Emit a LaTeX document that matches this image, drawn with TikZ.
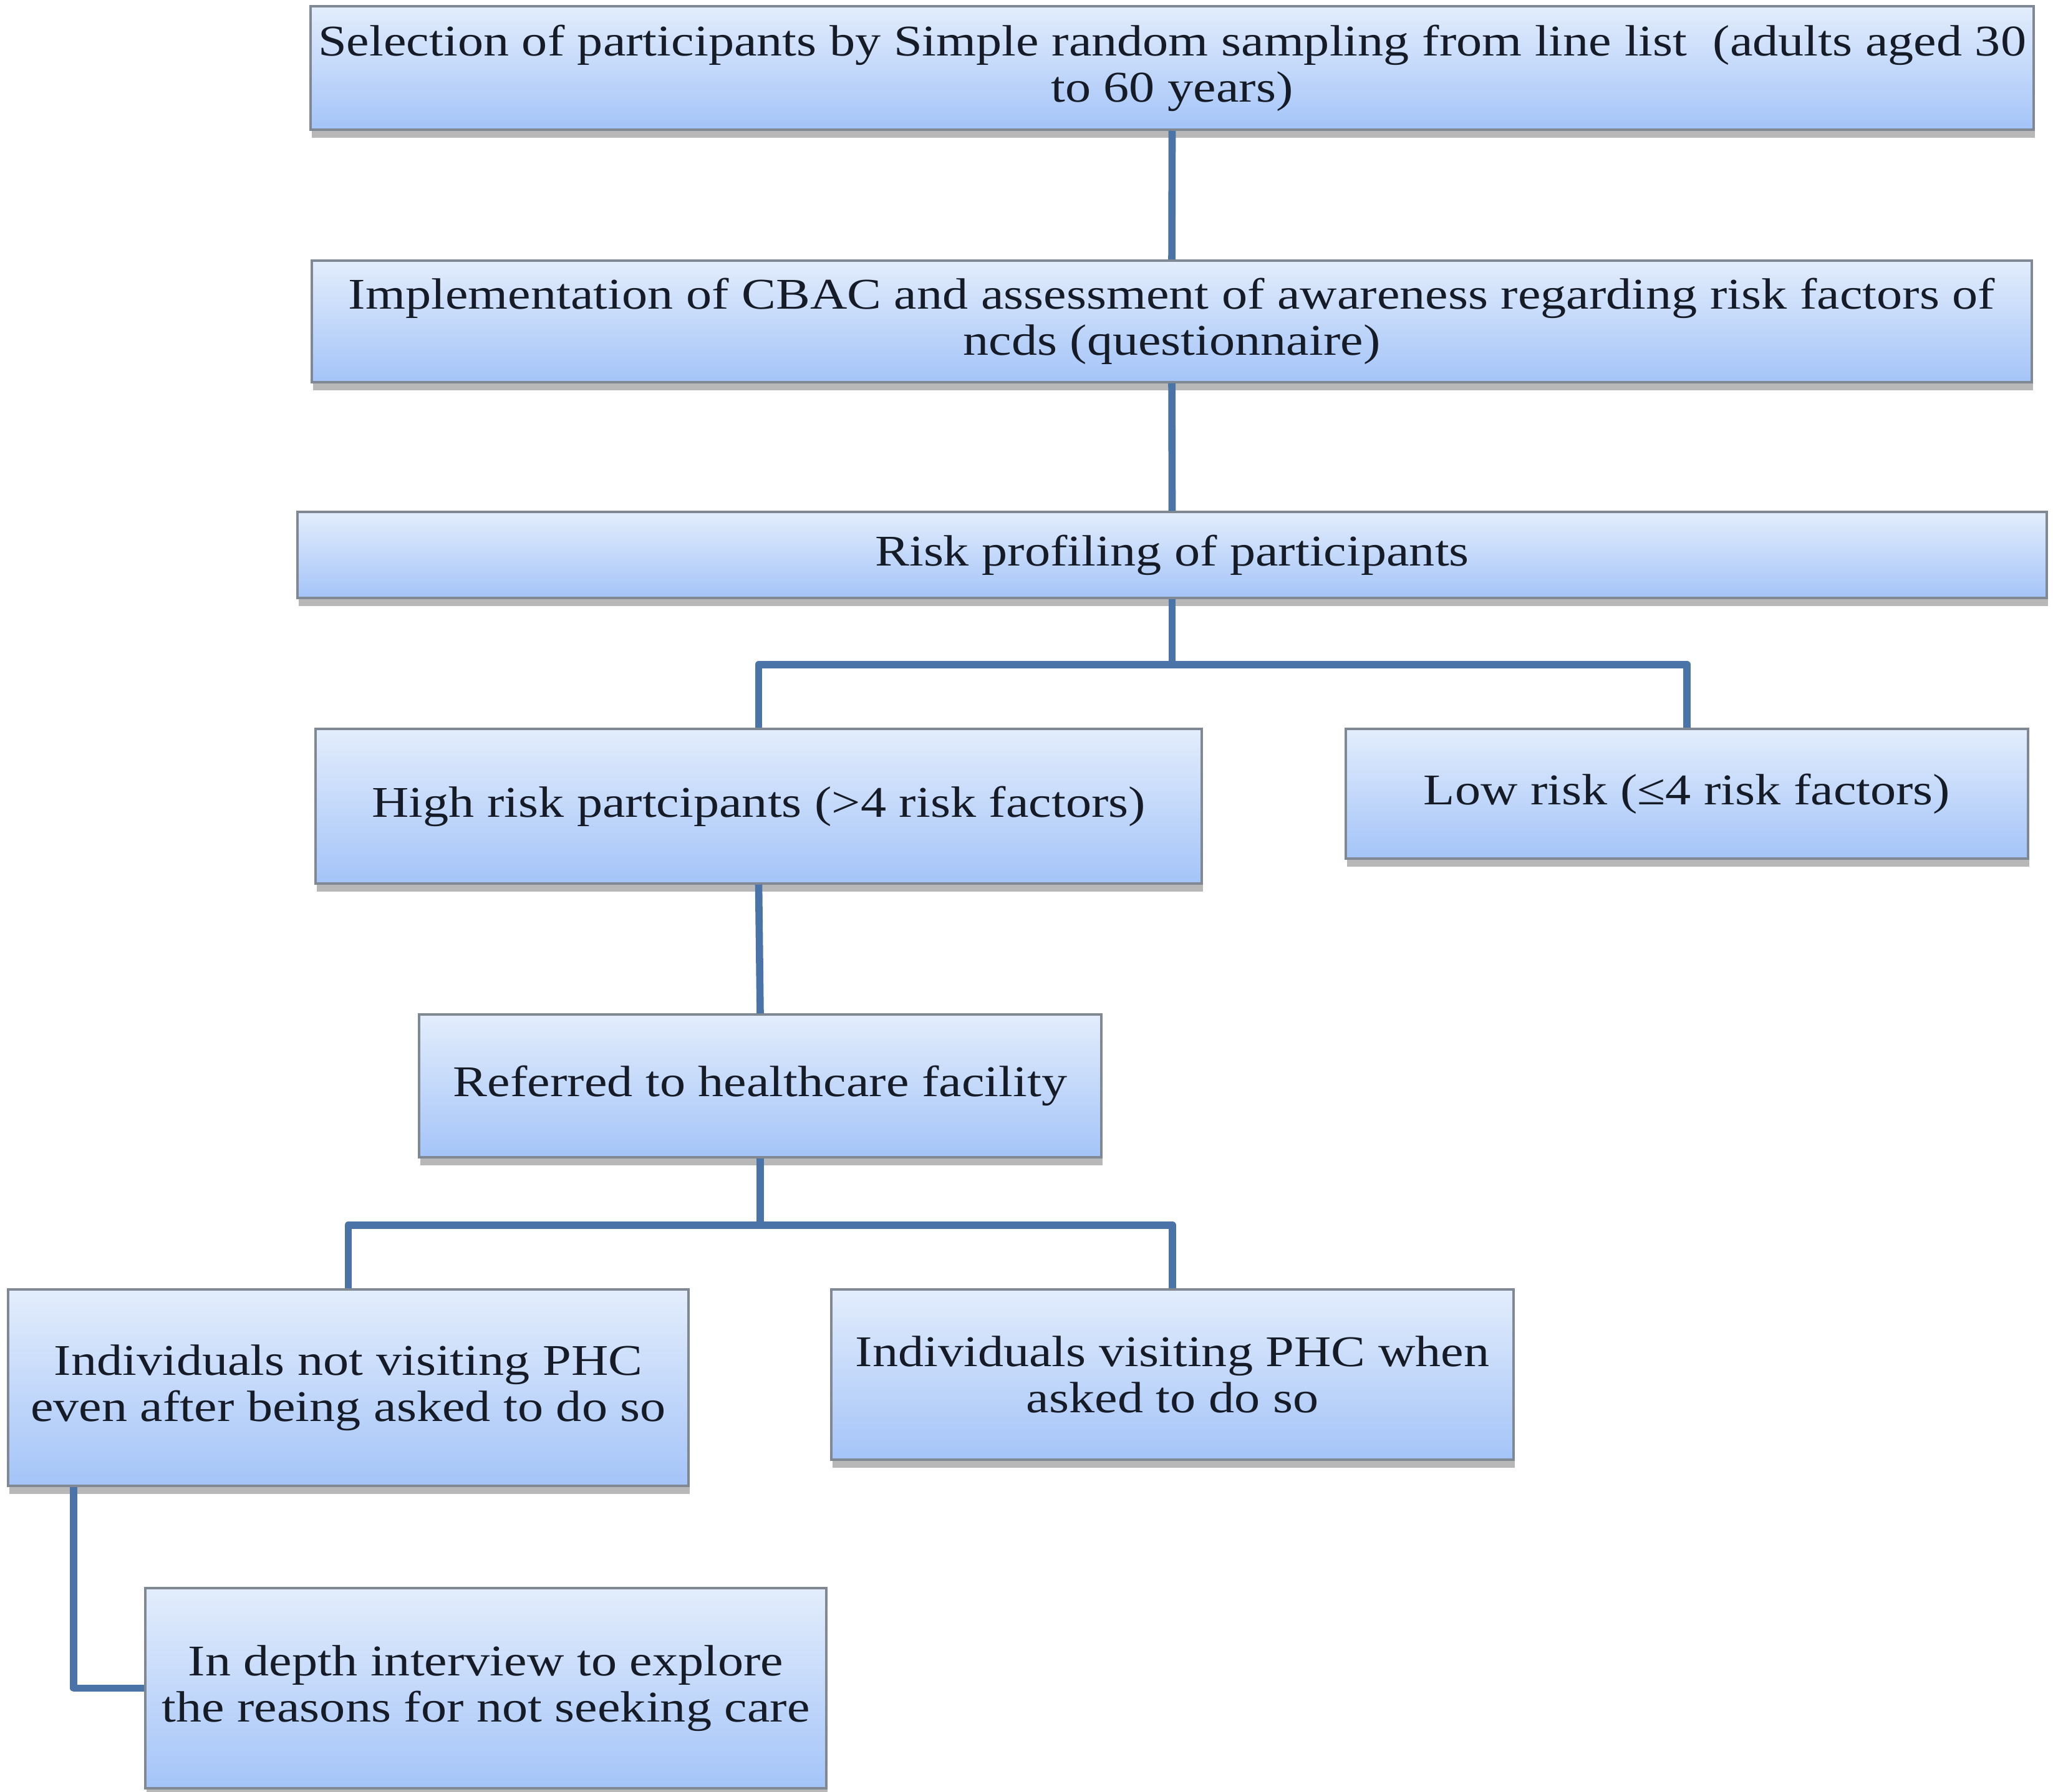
\documentclass[tikz,border=0pt]{standalone}
\usepackage{fontspec}
\setmainfont{Liberation Serif}[FakeStretch=1.17]
\usetikzlibrary{positioning,shadows,calc}
\definecolor{boxtop}{HTML}{E3EDFC}
\definecolor{boxbot}{HTML}{A4C4F8}
\definecolor{boxedge}{HTML}{7F8893}
\definecolor{link}{HTML}{4A74A8}
\definecolor{ink}{HTML}{161B28}

\tikzset{
  stage/.style={draw=boxedge, line width=1pt, top color=boxtop, bottom color=boxbot,
    align=center, inner sep=2pt, text=ink, font=\fontsize{20}{21}\selectfont,
    drop shadow={shadow xshift=0.15ex, shadow yshift=-0.8ex, fill=black, opacity=0.28}},
  linkline/.style={draw=link, line width=3.3pt, line join=round}
}

\begin{document}
\begin{tikzpicture}
  \useasboundingbox (0,0) rectangle (32.92,-28.73);

  % sampling and questionnaire
  \node[stage, minimum width=27.63cm, minimum height=1.98cm] (select) at (18.795,-1.09)
    {Selection of participants by Simple random sampling from line list~~(adults aged 30\\to 60 years)};
  \node[stage, minimum width=27.58cm, minimum height=1.95cm] (cbac) at (18.79,-5.155)
    {Implementation of CBAC and assessment of awareness regarding risk factors of\\ncds (questionnaire)};
  \node[stage, minimum width=28.05cm, minimum height=1.38cm] (profile) at (18.795,-8.90)
    {Risk profiling of participants};

  % risk groups
  \node[stage, minimum width=14.21cm, minimum height=2.48cm] (high) at (12.165,-12.93)
    {High risk partcipants (>4 risk factors)};
  \node[stage, minimum width=10.94cm, minimum height=2.08cm] (low) at (27.05,-12.73)
    {Low risk (≤4 risk factors)};
  \node[stage, minimum width=10.94cm, minimum height=2.29cm] (refer) at (12.19,-17.415)
    {Referred to healthcare facility};

  % follow up
  \node[stage, minimum width=10.91cm, minimum height=3.15cm] (notvisit) at (5.585,-22.255)
    {Individuals not visiting PHC\\even after being asked to do so};
  \node[stage, minimum width=10.94cm, minimum height=2.73cm] (visit) at (18.80,-22.045)
    {Individuals visiting PHC when\\asked to do so};
  \node[stage, minimum width=10.92cm, minimum height=3.21cm] (interview) at (7.79,-27.075)
    {In depth interview to explore\\the reasons for not seeking care};

  % connectors
  \draw[linkline] (select.south) -- (cbac.north);
  \draw[linkline] (cbac.south) -- (profile.north);
  \draw[linkline] (profile.south) -- ++(0,-1.05) -| (high.north);
  \draw[linkline] (profile.south) -- ++(0,-1.05) -| (low.north);
  \draw[linkline] (high.south) -- (refer.north);
  \draw[linkline] (refer.south) -- ++(0,-1.07) -| (notvisit.north);
  \draw[linkline] (refer.south) -- ++(0,-1.07) -| (visit.north);
  \draw[linkline] ([xshift=1.07cm]notvisit.south west) |- (interview.west);
\end{tikzpicture}
\end{document}
